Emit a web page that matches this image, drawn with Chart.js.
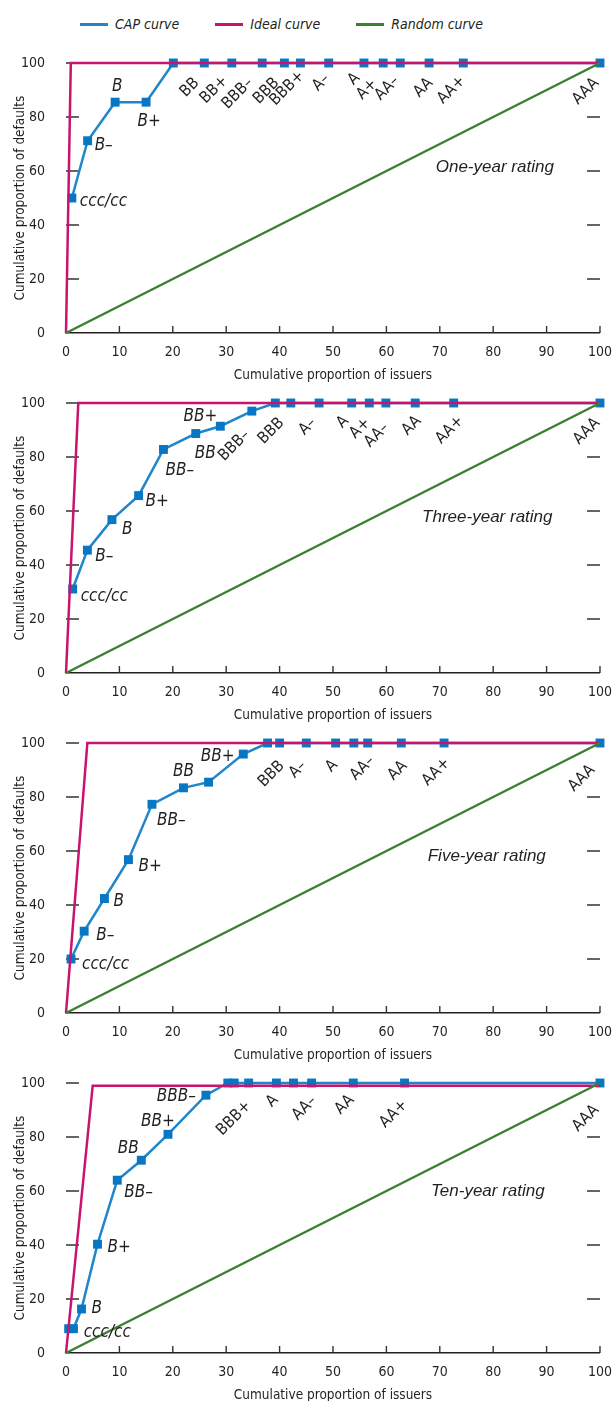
<!DOCTYPE html>
<html>
<head>
<meta charset="utf-8">
<script src="https://cdn.jsdelivr.net/npm/chart.js@4.4.1/dist/chart.umd.min.js"></script>
<style>
  body { margin: 0; width: 612px; height: 1401px; overflow: hidden; background: #fff; position: relative; }
  canvas.panel { position: absolute; left: 0; }
  #legend { position: absolute; top: 16px; left: 80px; display: flex; font-family: 'Liberation Sans Narrow', 'DejaVu Sans Condensed', sans-serif; font-style: italic; font-size: 14px; color: #231f20; }
  #legend .item { display: flex; align-items: center; margin-right: 36px; }
  #legend .item i { display: inline-block; width: 28px; height: 3px; margin-right: 7px; }
</style>
</head>
<body>
<div id="legend"></div>
<canvas id="oneYear" class="panel" width="612" height="340" style="top:53px"></canvas>
<canvas id="threeYear" class="panel" width="612" height="340" style="top:393px"></canvas>
<canvas id="fiveYear" class="panel" width="612" height="340" style="top:733px"></canvas>
<canvas id="tenYear" class="panel" width="612" height="340" style="top:1073px"></canvas>
<script>
const NARROW = "'Liberation Sans Narrow', 'DejaVu Sans Condensed', sans-serif";
const WIDE = "'Liberation Sans', Arial, sans-serif";

// rating grades, from worst to best
const ratings = ['ccc/cc', 'B–', 'B', 'B+', 'BB–', 'BB', 'BB+', 'BBB–', 'BBB', 'BBB+',
  'A–', 'A', 'A+', 'AA–', 'AA', 'AA+', 'AAA'];
const horizons = ['One-year rating', 'Three-year rating', 'Five-year rating', 'Ten-year rating'];

// cumulative proportion of issuers (%) at each grade
const issuersOneYear = [1.1, 4.05, 9.2, 15.0, 20.1, 25.9, 31.05, 36.75, 40.9, 43.9, 49.2, 55.8, 59.4, 62.6, 68.0, 74.4, 100];
const issuersThreeYear = [1.25, 4.0, 8.6, 13.6, 18.25, 24.3, 28.9, 34.8, 39.2, 42.1, 47.4, 53.5, 56.8, 59.9, 65.4, 72.6, 100];
const issuersFiveYear = [0.94, 3.4, 7.2, 11.7, 16.1, 22.0, 26.7, 33.2, 37.75, 40.0, 45.0, 50.5, 53.9, 56.5, 62.8, 70.8, 100];
const issuersTenYear = [0.5, 1.4, 2.9, 5.9, 9.6, 14.1, 19.1, 26.2, 30.3, 31.5, 34.2, 39.4, 42.6, 46.0, 53.8, 63.4, 100];

// cumulative proportion of defaults (%) at each grade
const defaultsOneYear = [50, 71.2, 85.5, 85.5, 100, 100, 100, 100, 100, 100, 100, 100, 100, 100, 100, 100, 100];
const defaultsThreeYear = [31.1, 45.5, 56.8, 65.7, 82.8, 88.7, 91.4, 97.0, 100, 100, 100, 100, 100, 100, 100, 100, 100];
const defaultsFiveYear = [20.0, 30.3, 42.4, 56.8, 77.3, 83.4, 85.5, 95.9, 100, 100, 100, 100, 100, 100, 100, 100, 100];
const defaultsTenYear = [9.0, 9.0, 16.3, 40.3, 64.0, 71.4, 81.0, 95.5, 100, 100, 100, 100, 100, 100, 100, 100, 100];

// ideal curve: straight up to the default rate, then flat
const idealIssuers = [[0, 0.9, 100], [0, 2.3, 100], [0, 4.0, 100], [0, 5.0, 100]];
const idealDefaults = [[0, 100, 100], [0, 100, 100], [0, 100, 100], [0, 99, 99]];

// random curve: the diagonal
const randomIssuers = [0, 100];
const randomDefaults = [0, 100];

const capIssuers = [issuersOneYear, issuersThreeYear, issuersFiveYear, issuersTenYear];
const capDefaults = [defaultsOneYear, defaultsThreeYear, defaultsFiveYear, defaultsTenYear];

// where each grade name sits beside its marker: [kind, dx, dy]
// l = starts right of it, c = centred on it, e = ends left of it, r = slanted under it
const labelSpots = [
  { 'ccc/cc': ['l', 8, 4], 'B–': ['l', 7, 5], 'B': ['c', 2, -16], 'B+': ['c', 3, 19],
    'BB': ['r', -3, 0], 'BB+': ['r', -2, -2], 'BBB–': ['r', -7, 0], 'BBB': ['r', -3, 0], 'BBB+': ['r', 6, -7],
    'A–': ['r', 3, -4], 'A': ['r', -2, -5], 'A+': ['r', -4, 1], 'AA–': ['r', 1, -2], 'AA': ['r', 6, 0],
    'AA+': ['r', 4, -2], 'AAA': ['r', 1, 0] },
  { 'ccc/cc': ['l', 8, 8], 'B–': ['l', 8, 6], 'B': ['l', 10, 10], 'B+': ['l', 7, 6], 'BB–': ['l', 2, 21],
    'BB': ['l', -1, 20], 'BB+': ['e', -3, -10],
    'BBB–': ['r', 0, 4], 'BBB': ['r', 11, 0], 'A–': ['r', -1, 0], 'A': ['r', -1, -2], 'A+': ['r', 3, 0],
    'AA–': ['r', 5, 5], 'AA': ['r', 8, -2], 'AA+': ['r', 12, -2], 'AAA': ['r', 2, 0] },
  { 'ccc/cc': ['l', 11, 6], 'B–': ['l', 12, 4], 'B': ['l', 9, 3], 'B+': ['l', 10, 7], 'BB–': ['l', 5, 16],
    'BB': ['c', 0, -16], 'BB+': ['c', 9, -26],
    'BBB': ['r', 19, 3], 'A–': ['r', 2, 3], 'A': ['r', 4, 2], 'AA–': ['r', 9, -2], 'AA': ['r', 8, 3],
    'AA+': ['r', 8, 0], 'AAA': ['r', -3, 7] },
  { 'ccc/cc': ['l', 15, 4], 'B': ['l', 10, 0], 'B+': ['l', 10, 3], 'BB–': ['l', 7, 12],
    'BB': ['c', -13, -12], 'BB+': ['c', -10, -13], 'BBB–': ['e', -10, 1],
    'BBB+': ['r', 19, 3], 'A': ['r', 4, -3], 'AA–': ['r', 7, -2], 'AA': ['r', 3, -3], 'AA+': ['r', 5, 2],
    'AAA': ['r', 1, 7] }
];
// centre of the horizon caption, in axis units
const captionAt = [[80.3, 61.2], [78.9, 57.5], [78.8, 58], [79, 60]];

const CAP_BLUE = '#1f86cb';
const IDEAL_RED = '#c8146e';
const RANDOM_GREEN = '#3b8031';
const INK = '#231f20';

const toPoints = (xs, ys) => xs.map((x, i) => ({ x, y: ys[i] }));

// short tick marks drawn inward from the left, right and bottom edges
const innerTicks = {
  id: 'innerTicks',
  beforeDatasetsDraw(chart) {
    const { ctx, chartArea: { left, right, bottom }, scales: { x, y } } = chart;
    ctx.save();
    ctx.strokeStyle = '#333';
    ctx.lineWidth = 1.4;
    ctx.beginPath();
    y.ticks.forEach(t => {
      if (t.value === 0) return;
      const py = y.getPixelForValue(t.value);
      ctx.moveTo(left, py); ctx.lineTo(left + 13, py);
      ctx.moveTo(right - 13, py); ctx.lineTo(right, py);
    });
    x.ticks.forEach(t => {
      if (t.value === 0) return;
      const px = x.getPixelForValue(t.value);
      ctx.moveTo(px, bottom); ctx.lineTo(px, bottom - 7);
    });
    ctx.stroke();
    ctx.restore();
  }
};

// grade names next to the CAP markers, plus the horizon caption
const gradeLabels = {
  id: 'gradeLabels',
  afterDatasetsDraw(chart, args, opts) {
    const { ctx, scales: { x, y } } = chart;
    ctx.save();
    ctx.fillStyle = INK;
    ctx.textBaseline = 'middle';
    ratings.forEach((name, i) => {
      const spot = opts.spots[name];
      if (!spot) return;
      const [kind, dx, dy] = spot;
      const px = x.getPixelForValue(opts.issuers[i]);
      const py = y.getPixelForValue(opts.defaults[i]);
      if (kind === 'r') {
        ctx.save();
        ctx.font = `16px ${NARROW}`;
        ctx.translate(px - 4.5 + dx, py + 17.5 + dy);
        ctx.rotate(-Math.PI / 4);
        ctx.textAlign = 'right';
        ctx.fillText(name, 0, 0);
        ctx.restore();
      } else {
        ctx.font = `italic 17px ${NARROW}`;
        ctx.textAlign = kind === 'l' ? 'left' : kind === 'c' ? 'center' : 'right';
        ctx.fillText(name, px + dx, py + dy);
      }
    });
    ctx.font = `italic 17px ${WIDE}`;
    ctx.textAlign = 'center';
    ctx.fillText(opts.caption, x.getPixelForValue(opts.captionAt[0]), y.getPixelForValue(opts.captionAt[1]));
    ctx.restore();
  }
};

Chart.defaults.font.family = NARROW;
Chart.defaults.color = INK;

function drawPanel(canvasId, k) {
  return new Chart(document.getElementById(canvasId), {
    type: 'line',
    data: {
      datasets: [
        {
          label: 'CAP curve',
          data: toPoints(capIssuers[k], capDefaults[k]),
          borderColor: CAP_BLUE,
          backgroundColor: CAP_BLUE,
          borderWidth: 2.5,
          pointStyle: 'rect',
          pointRadius: 6.3,
          pointBorderWidth: 0,
          pointBackgroundColor: '#0877c3',
          clip: false,
          order: 2
        },
        {
          label: 'Ideal curve',
          data: toPoints(idealIssuers[k], idealDefaults[k]),
          borderColor: IDEAL_RED,
          backgroundColor: IDEAL_RED,
          borderWidth: 2.5,
          pointRadius: 0,
          clip: false,
          order: 1
        },
        {
          label: 'Random curve',
          data: toPoints(randomIssuers, randomDefaults),
          borderColor: RANDOM_GREEN,
          backgroundColor: RANDOM_GREEN,
          borderWidth: 2.5,
          pointRadius: 0,
          clip: false,
          order: 0
        }
      ]
    },
    options: {
      responsive: false,
      animation: false,
      events: [],
      layout: { padding: { top: 10, right: 12, left: 0, bottom: 0 } },
      plugins: {
        legend: { display: false },
        tooltip: { enabled: false },
        gradeLabels: {
          spots: labelSpots[k],
          issuers: capIssuers[k],
          defaults: capDefaults[k],
          caption: horizons[k],
          captionAt: captionAt[k]
        }
      },
      scales: {
        x: {
          type: 'linear',
          min: 0,
          max: 100,
          afterFit: s => { s.height = 60; },
          ticks: { stepSize: 10, padding: 0, maxRotation: 0, autoSkip: false, font: { size: 14 } },
          // outer tick marks kept invisible: they only push the labels off the axis
          grid: { drawOnChartArea: false, drawTicks: true, tickLength: 11, tickColor: 'rgba(0,0,0,0)' },
          border: { color: INK, width: 1.5 },
          title: {
            display: true,
            text: 'Cumulative proportion of issuers',
            font: { size: 13.5 },
            padding: { top: 0, bottom: 9 }
          }
        },
        y: {
          min: 0,
          max: 100,
          afterFit: s => { s.width = 66; },
          ticks: { stepSize: 20, padding: 0, font: { size: 14 } },
          grid: { drawOnChartArea: false, drawTicks: true, tickLength: 21, tickColor: 'rgba(0,0,0,0)' },
          border: { display: false },
          title: {
            display: true,
            text: 'Cumulative proportion of defaults',
            font: { size: 13.5 },
            padding: { top: 12, bottom: 0 }
          }
        }
      }
    },
    plugins: [innerTicks, gradeLabels]
  });
}

const panels = ['oneYear', 'threeYear', 'fiveYear', 'tenYear'].map(drawPanel);

// legend row built from the first panel's datasets
const legendBox = document.getElementById('legend');
panels[0].data.datasets.forEach(ds => {
  const item = document.createElement('span');
  item.className = 'item';
  const swatch = document.createElement('i');
  swatch.style.background = ds.borderColor;
  item.appendChild(swatch);
  item.appendChild(document.createTextNode(ds.label));
  legendBox.appendChild(item);
});
</script>
</body>
</html>
